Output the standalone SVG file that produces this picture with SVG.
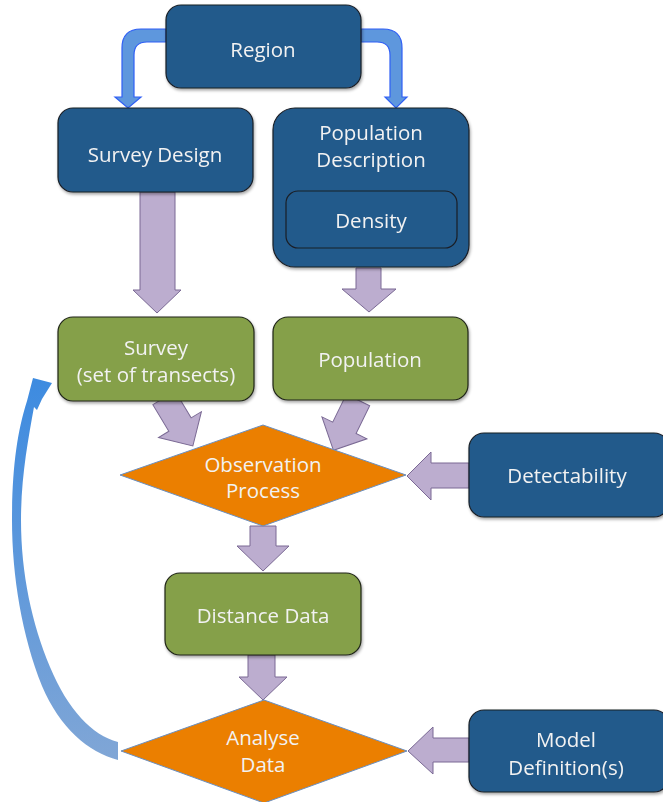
<svg xmlns="http://www.w3.org/2000/svg" width="663" height="802" viewBox="0 0 663 802">
<defs>
<style>
.blue{fill:#245a8b;stroke:#1a1f26;stroke-width:1.2}
.green{fill:#85a04a;stroke:#1f2418;stroke-width:1.2}
.dia{fill:#eb7f00;stroke:#6a8fc0;stroke-width:1}
.parr{fill:#bcadcf;stroke:#7a6994;stroke-width:1}
.barr{fill:#5e97dd;stroke:#2f5ff5;stroke-width:1.2}
text{font-family:"Open Sans","Liberation Sans",sans-serif;font-size:20.5px;fill:#f2f2f2;text-anchor:middle}
</style>
<filter id="sh" x="-10%" y="-10%" width="125%" height="130%">
<feDropShadow dx="1" dy="2" stdDeviation="1.5" flood-color="#000" flood-opacity="0.35"/>
</filter>
<linearGradient id="cg" x1="0" y1="0" x2="0" y2="1">
<stop offset="0" stop-color="#3d8be0"/>
<stop offset="1" stop-color="#80a6d6"/>
</linearGradient>
<polygon id="darrow" points="-13,0 13,0 13,31 25,31 0,56 -25,31 -13,31"/>
</defs>
<g id="connectors">
<path class="barr" d="M166,29 H141 Q122,29 122,48 V97 H115 L128,108 L141,97 H134 V55 Q134,42 147,42 H166 Z"/>
<path class="barr" d="M361,29 H383 Q402,29 402,48 V97 H407 L396,108 L385,97 H390 V55 Q390,42 377,42 H361 Z"/>
<polygon class="parr" points="140,192 175,192 175,290 181,290 157,313 133,290 140,290"/>
<polygon class="parr" points="356,268 381,268 381,289 396,289 369,312 342,289 356,289"/>
<use href="#darrow" class="parr" transform="translate(164,398) rotate(-31)"/>
<use href="#darrow" class="parr" transform="translate(358,400) rotate(26)"/>
<polygon class="parr" points="469,463 431,463 431,452 407,476 431,500 431,488 469,488"/>
<polygon class="parr" points="250,526 276,526 276,546 289,546 263,571 237,546 250,546"/>
<polygon class="parr" points="248,655 275,655 275,677 287,677 263,700 239,677 248,677"/>
<polygon class="parr" points="469,738 433,738 433,727 408,751 433,774 433,762 469,762"/>
<path fill="url(#cg)" d="M118,760 C88,752 60,728 42,686 C22,636 12,576 12,520 C12,470 17,432 27,401 L33,378 L52,383 L42,399 L37,410 L34,407 C28,440 21,478 21,520 C21,574 32,624 50,667 C68,710 92,735 118,742 Z"/>
</g>
<g id="region" filter="url(#sh)"><rect class="blue" x="166" y="5" width="195" height="83" rx="15"/><text x="263" y="57">Region</text></g>
<g id="survey-design" filter="url(#sh)"><rect class="blue" x="58" y="108" width="195" height="84" rx="15"/><text x="155" y="162">Survey Design</text></g>
<g id="population-description" filter="url(#sh)"><rect class="blue" x="273" y="108" width="196" height="159" rx="22"/><text x="371" y="140">Population</text><text x="371" y="167">Description</text>
<g id="density"><rect class="blue" x="286" y="191" width="171" height="57" rx="12"/><text x="371" y="228">Density</text></g></g>
<g id="survey" filter="url(#sh)"><rect class="green" x="58" y="317" width="196" height="84" rx="15"/><text x="156" y="355">Survey</text><text x="156" y="382">(set of transects)</text></g>
<g id="population" filter="url(#sh)"><rect class="green" x="273" y="317" width="195" height="83" rx="15"/><text x="370" y="367">Population</text></g>
<g id="observation-process"><polygon class="dia" points="263,425 406,475 263,526 120,475"/><text x="263" y="472">Observation</text><text x="263" y="498">Process</text></g>
<g id="detectability" filter="url(#sh)"><rect class="blue" x="469" y="433" width="200" height="84" rx="15"/><text x="567" y="483">Detectability</text></g>
<g id="distance-data" filter="url(#sh)"><rect class="green" x="165" y="573" width="196" height="82" rx="15"/><text x="263" y="623">Distance Data</text></g>
<g id="analyse-data"><polygon class="dia" points="264,700 407,751 264,803 121,751"/><text x="263" y="745">Analyse</text><text x="263" y="772">Data</text></g>
<g id="model-definition" filter="url(#sh)"><rect class="blue" x="469" y="710" width="200" height="82" rx="15"/><text x="566" y="747">Model</text><text x="566" y="775">Definition(s)</text></g>
</svg>
